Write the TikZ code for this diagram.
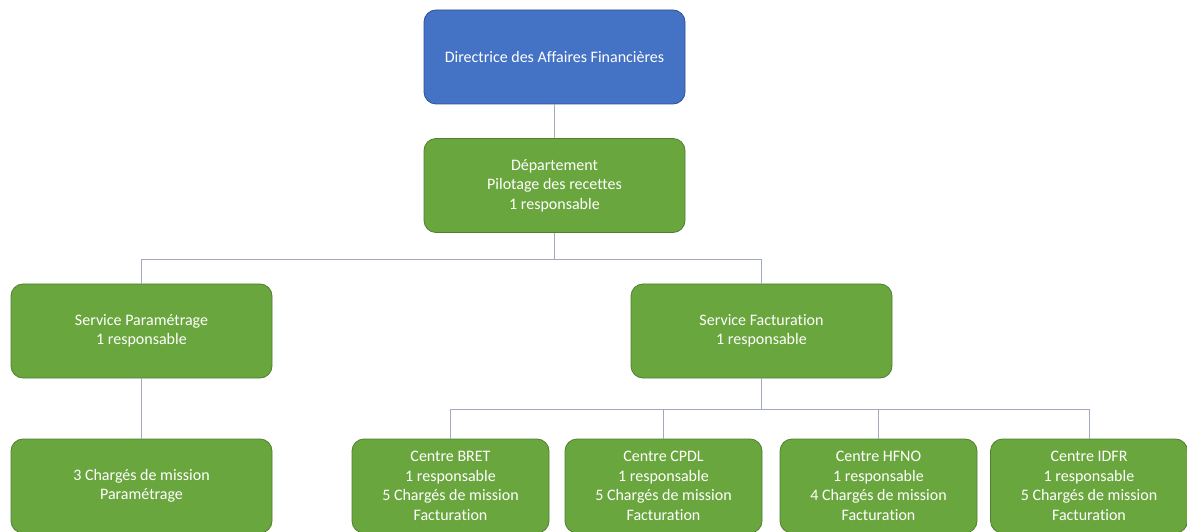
\documentclass[tikz,border=0pt]{standalone}
\usepackage{fontspec}
\setmainfont[Ligatures=NoCommon]{Carlito}

\definecolor{boxblue}{HTML}{4472C4}
\definecolor{blueline}{HTML}{2F528F}
\definecolor{boxgreen}{HTML}{6AA63E}
\definecolor{greenline}{HTML}{507E32}
\definecolor{linkgray}{HTML}{A3A9C2}

\tikzset{
  unit/.style={draw=greenline, fill=boxgreen, rounded corners=12pt, text=white,
    align=center, minimum width=261pt, minimum height=94pt, line width=0.8pt,
    font=\fontsize{16}{19.5}\selectfont},
  topunit/.style={unit, draw=blueline, fill=boxblue},
  link/.style={draw=linkgray, line width=0.9pt}
}

\begin{document}
\begin{tikzpicture}[x=1pt,y=1pt]

\useasboundingbox (0,0) rectangle (1187,531);
\clip (0,0) rectangle (1187,531);

% Direction and department
\node[topunit] (dir) at (554.5,474) {Directrice des Affaires Financières};
\node[unit] (dept) at (554.5,345.5) {Département\\Pilotage des recettes\\1 responsable};
\draw[link] (dir.south) -- (dept.north);

% Services
\node[unit] (spar) at (141.5,200) {Service Paramétrage\\1 responsable};
\node[unit] (sfac) at (761.5,200) {Service Facturation\\1 responsable};
\draw[link] (dept.south) -- ++(0,-27) -| (spar.north);
\draw[link] (dept.south) -- ++(0,-27) -| (sfac.north);

% Parametrage team
\node[unit] (charg) at (141.5,45) {3 Chargés de mission\\Paramétrage};
\draw[link] (spar.south) -- (charg.north);

% Billing centres
\foreach \name/\x/\cnt/\sigle in {bret/450.5/5/BRET, cpdl/663.5/5/CPDL,
                                  hfno/878.5/4/HFNO, idfr/1089/5/IDFR} {
    \node[unit, minimum width=197pt] (\name) at (\x,45)
        {Centre \sigle\\1 responsable\\\cnt{} Chargés de mission\\Facturation};
    \draw[link] (sfac.south) -- ++(0,-31) -| (\name.north);
}

\end{tikzpicture}
\end{document}
